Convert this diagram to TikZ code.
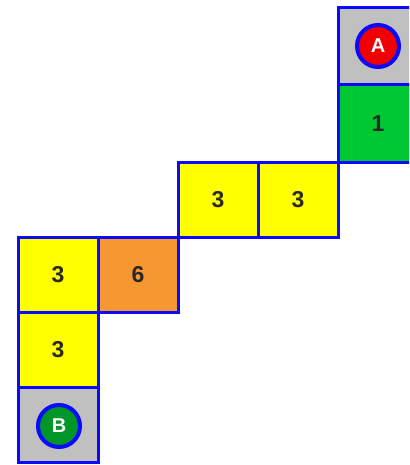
\documentclass[tikz,border=0pt]{standalone}
\usepackage{fontspec}
\setmainfont{Liberation Sans}
\definecolor{cyel}{RGB}{255,255,0}
\definecolor{corg}{RGB}{245,152,50}
\definecolor{cgrn}{RGB}{0,200,50}
\definecolor{cgry}{RGB}{192,192,192}
\definecolor{cblu}{RGB}{10,10,255}
\definecolor{cred}{RGB}{240,0,0}
\definecolor{cdkg}{RGB}{0,150,40}
\definecolor{ctxt}{RGB}{40,40,40}
\begin{document}
\begin{tikzpicture}[x=1pt,y=-1pt,
  cell/.style={draw=cblu,line width=3pt,rectangle,anchor=north west,inner sep=0pt,outer sep=0pt,
    minimum width=80pt,font=\bfseries\fontsize{23}{23}\selectfont,text=ctxt},
  tall/.style={minimum height=77pt},
  short/.style={minimum height=75pt},
  badge/.style={circle,draw=cblu,line width=4pt,minimum size=42pt,inner sep=0pt,
    font=\bfseries\fontsize{20}{20}\selectfont,text=white}]
\clip (0,0) rectangle (409,465);
\fill[white] (0,0) rectangle (409,465);
\node[cell,tall,fill=cgry] (cA) at (338,8) {};
\node[cell,tall,fill=cgrn] (c1) at (338,85) {1};
\node[cell,short,fill=cyel] (c3a) at (178,162) {3};
\node[cell,short,fill=cyel] (c3b) at (258,162) {3};
\node[cell,short,fill=cyel] (c3c) at (18,237) {3};
\node[cell,short,fill=corg] (c6) at (98,237) {6};
\node[cell,short,fill=cyel] (c3d) at (18,312) {3};
\node[cell,short,fill=cgry] (cB) at (18,387) {};
\node[badge,fill=cred] (bA) at (378,46) {A};
\node[badge,fill=cdkg] (bB) at (59,426) {B};
\end{tikzpicture}
\end{document}
